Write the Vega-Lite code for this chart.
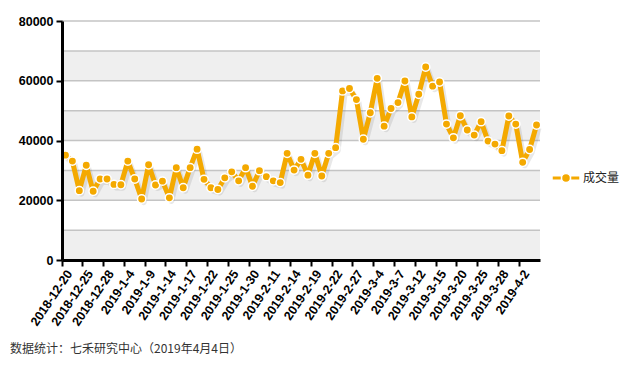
{
  "$schema": "https://vega.github.io/schema/vega-lite/v6.json",
  "width": 478,
  "height": 239,
  "autosize": {"type": "none"},
  "padding": {"left": 62, "top": 21, "right": 100, "bottom": 106},
  "background": "white",
  "datasets": {
    "vol": [
      {"d": "2018-12-20", "v": 35100}, {"d": "2018-12-21", "v": 33100}, {"d": "2018-12-24", "v": 23200},
      {"d": "2018-12-25", "v": 31700}, {"d": "2018-12-26", "v": 23000}, {"d": "2018-12-27", "v": 27100},
      {"d": "2018-12-28", "v": 27100}, {"d": "2019-1-2", "v": 25300}, {"d": "2019-1-3", "v": 25200},
      {"d": "2019-1-4", "v": 33100}, {"d": "2019-1-7", "v": 27100}, {"d": "2019-1-8", "v": 20400},
      {"d": "2019-1-9", "v": 31900}, {"d": "2019-1-10", "v": 25100}, {"d": "2019-1-11", "v": 26400},
      {"d": "2019-1-14", "v": 20800}, {"d": "2019-1-15", "v": 30900}, {"d": "2019-1-16", "v": 24200},
      {"d": "2019-1-17", "v": 30900}, {"d": "2019-1-18", "v": 37100}, {"d": "2019-1-21", "v": 27000},
      {"d": "2019-1-22", "v": 24200}, {"d": "2019-1-23", "v": 23600}, {"d": "2019-1-24", "v": 27500},
      {"d": "2019-1-25", "v": 29500}, {"d": "2019-1-28", "v": 26500}, {"d": "2019-1-29", "v": 30900},
      {"d": "2019-1-30", "v": 24700}, {"d": "2019-1-31", "v": 29900}, {"d": "2019-2-1", "v": 27900},
      {"d": "2019-2-11", "v": 26500}, {"d": "2019-2-12", "v": 25900}, {"d": "2019-2-13", "v": 35700},
      {"d": "2019-2-14", "v": 30100}, {"d": "2019-2-15", "v": 33700}, {"d": "2019-2-18", "v": 28400},
      {"d": "2019-2-19", "v": 35700}, {"d": "2019-2-20", "v": 28100}, {"d": "2019-2-21", "v": 35700},
      {"d": "2019-2-22", "v": 37600}, {"d": "2019-2-25", "v": 56600}, {"d": "2019-2-26", "v": 57400},
      {"d": "2019-2-27", "v": 53700}, {"d": "2019-2-28", "v": 40400}, {"d": "2019-3-1", "v": 49300},
      {"d": "2019-3-4", "v": 60800}, {"d": "2019-3-5", "v": 44800}, {"d": "2019-3-6", "v": 50700},
      {"d": "2019-3-7", "v": 52700}, {"d": "2019-3-8", "v": 59900}, {"d": "2019-3-11", "v": 47900},
      {"d": "2019-3-12", "v": 55500}, {"d": "2019-3-13", "v": 64600}, {"d": "2019-3-14", "v": 58200},
      {"d": "2019-3-15", "v": 59600}, {"d": "2019-3-18", "v": 45500}, {"d": "2019-3-19", "v": 40900},
      {"d": "2019-3-20", "v": 48300}, {"d": "2019-3-21", "v": 43500}, {"d": "2019-3-22", "v": 41800},
      {"d": "2019-3-25", "v": 46300}, {"d": "2019-3-26", "v": 39800}, {"d": "2019-3-27", "v": 38800},
      {"d": "2019-3-28", "v": 36600}, {"d": "2019-3-29", "v": 48200}, {"d": "2019-4-1", "v": 45500},
      {"d": "2019-4-2", "v": 32700}, {"d": "2019-4-3", "v": 37000}, {"d": "2019-4-4", "v": 45200}
    ],
    "bands": [
      {"y0": 0, "y1": 10000}, {"y0": 20000, "y1": 30000}, {"y0": 40000, "y1": 50000}, {"y0": 60000, "y1": 70000}
    ],
    "grid": [
      {"g": 10000}, {"g": 20000}, {"g": 30000}, {"g": 40000}, {"g": 50000}, {"g": 60000}, {"g": 70000}, {"g": 80000}
    ]
  },
  "title": {
    "text": "数据统计：七禾研究中心（2019年4月4日）",
    "orient": "bottom",
    "anchor": "start",
    "frame": "group",
    "dx": -52,
    "offset": 16,
    "font": "Noto Sans CJK SC",
    "fontSize": 12,
    "fontWeight": "normal",
    "color": "#333333"
  },
  "config": {
    "view": {"stroke": null},
    "axis": {"labelFont": "Liberation Sans", "labelFontWeight": "bold", "labelColor": "#000000"}
  },
  "layer": [
    {
      "data": {"name": "bands"},
      "mark": {"type": "rect", "color": "#efefef"},
      "encoding": {
        "y": {"field": "y0", "type": "quantitative", "scale": {"domain": [0, 80000]}},
        "y2": {"field": "y1"}
      }
    },
    {
      "data": {"name": "grid"},
      "mark": {"type": "rule", "color": "#c4c4c4", "strokeWidth": 1.5},
      "encoding": {
        "y": {"field": "g", "type": "quantitative"}
      }
    },
    {
      "data": {"name": "vol"},
      "mark": {"type": "line", "color": "#000000", "opacity": 0},
      "encoding": {
        "x": {
          "field": "d", "type": "ordinal", "sort": null, "bandPosition": 0.5,
          "scale": {"type": "band", "paddingInner": 0, "paddingOuter": 0},
          "axis": {
            "title": null,
            "zindex": 1,
            "values": ["2018-12-20", "2018-12-25", "2018-12-28", "2019-1-4", "2019-1-9", "2019-1-14", "2019-1-17", "2019-1-22", "2019-1-25", "2019-1-30", "2019-2-11", "2019-2-14", "2019-2-19", "2019-2-22", "2019-2-27", "2019-3-4", "2019-3-7", "2019-3-12", "2019-3-15", "2019-3-20", "2019-3-25", "2019-3-28", "2019-4-2"],
            "bandPosition": 0,
            "labelAngle": -56,
            "labelAlign": "right",
            "labelBaseline": "middle",
            "labelFontSize": 12.5,
            "labelPadding": 5,
            "labelOffset": 4,
            "labelOverlap": false,
            "tickColor": "#000000",
            "tickWidth": 2,
            "tickSize": 6,
            "domainColor": "#000000",
            "domainWidth": 3,
            "grid": false
          }
        },
        "y": {
          "field": "v", "type": "quantitative",
          "scale": {"domain": [0, 80000]},
          "axis": {
            "title": null,
            "zindex": 1,
            "values": [0, 20000, 40000, 60000, 80000],
            "format": "d",
            "labelFontSize": 12.5,
            "labelPadding": 3,
            "tickColor": "#000000",
            "tickWidth": 2,
            "tickSize": 6,
            "domainColor": "#000000",
            "domainWidth": 3,
            "grid": false
          }
        }
      }
    },
    {
      "data": {"name": "vol"},
      "mark": {"type": "line", "color": "#666666", "opacity": 0.15, "strokeWidth": 6, "strokeJoin": "round", "xOffset": 2, "yOffset": 3},
      "encoding": {
        "x": {"field": "d", "type": "ordinal", "sort": null, "bandPosition": 0.5},
        "y": {"field": "v", "type": "quantitative"}
      }
    },
    {
      "data": {"name": "vol"},
      "mark": {"type": "line", "color": "#F4A900", "strokeWidth": 5, "strokeJoin": "round"},
      "encoding": {
        "x": {"field": "d", "type": "ordinal", "sort": null, "bandPosition": 0.5},
        "y": {"field": "v", "type": "quantitative"}
      }
    },
    {
      "data": {"name": "vol"},
      "mark": {"type": "circle", "size": 70, "opacity": 1, "stroke": "#ffffff", "strokeWidth": 1.5},
      "encoding": {
        "x": {"field": "d", "type": "ordinal", "sort": null, "bandPosition": 0.5},
        "y": {"field": "v", "type": "quantitative"},
        "color": {
          "datum": "成交量",
          "scale": {"range": ["#F4A900"]},
          "legend": {
            "title": null,
            "orient": "none",
            "legendX": 493,
            "legendY": 146,
            "symbolType": "M-1.4,-0.22H-0.45V0.22H-1.4Z M0.45,-0.22H1.4V0.22H0.45Z M-0.45,0A0.45,0.45 0 1,1 0.45,0A0.45,0.45 0 1,1 -0.45,0Z",
            "symbolSize": 400,
            "symbolStrokeColor": "#ffffff",
            "symbolStrokeWidth": 1.5,
            "symbolOpacity": 1,
            "labelFont": "Noto Sans CJK SC",
            "labelFontSize": 12,
            "labelColor": "#222222",
            "labelOffset": 6
          }
        }
      }
    }
  ]
}
